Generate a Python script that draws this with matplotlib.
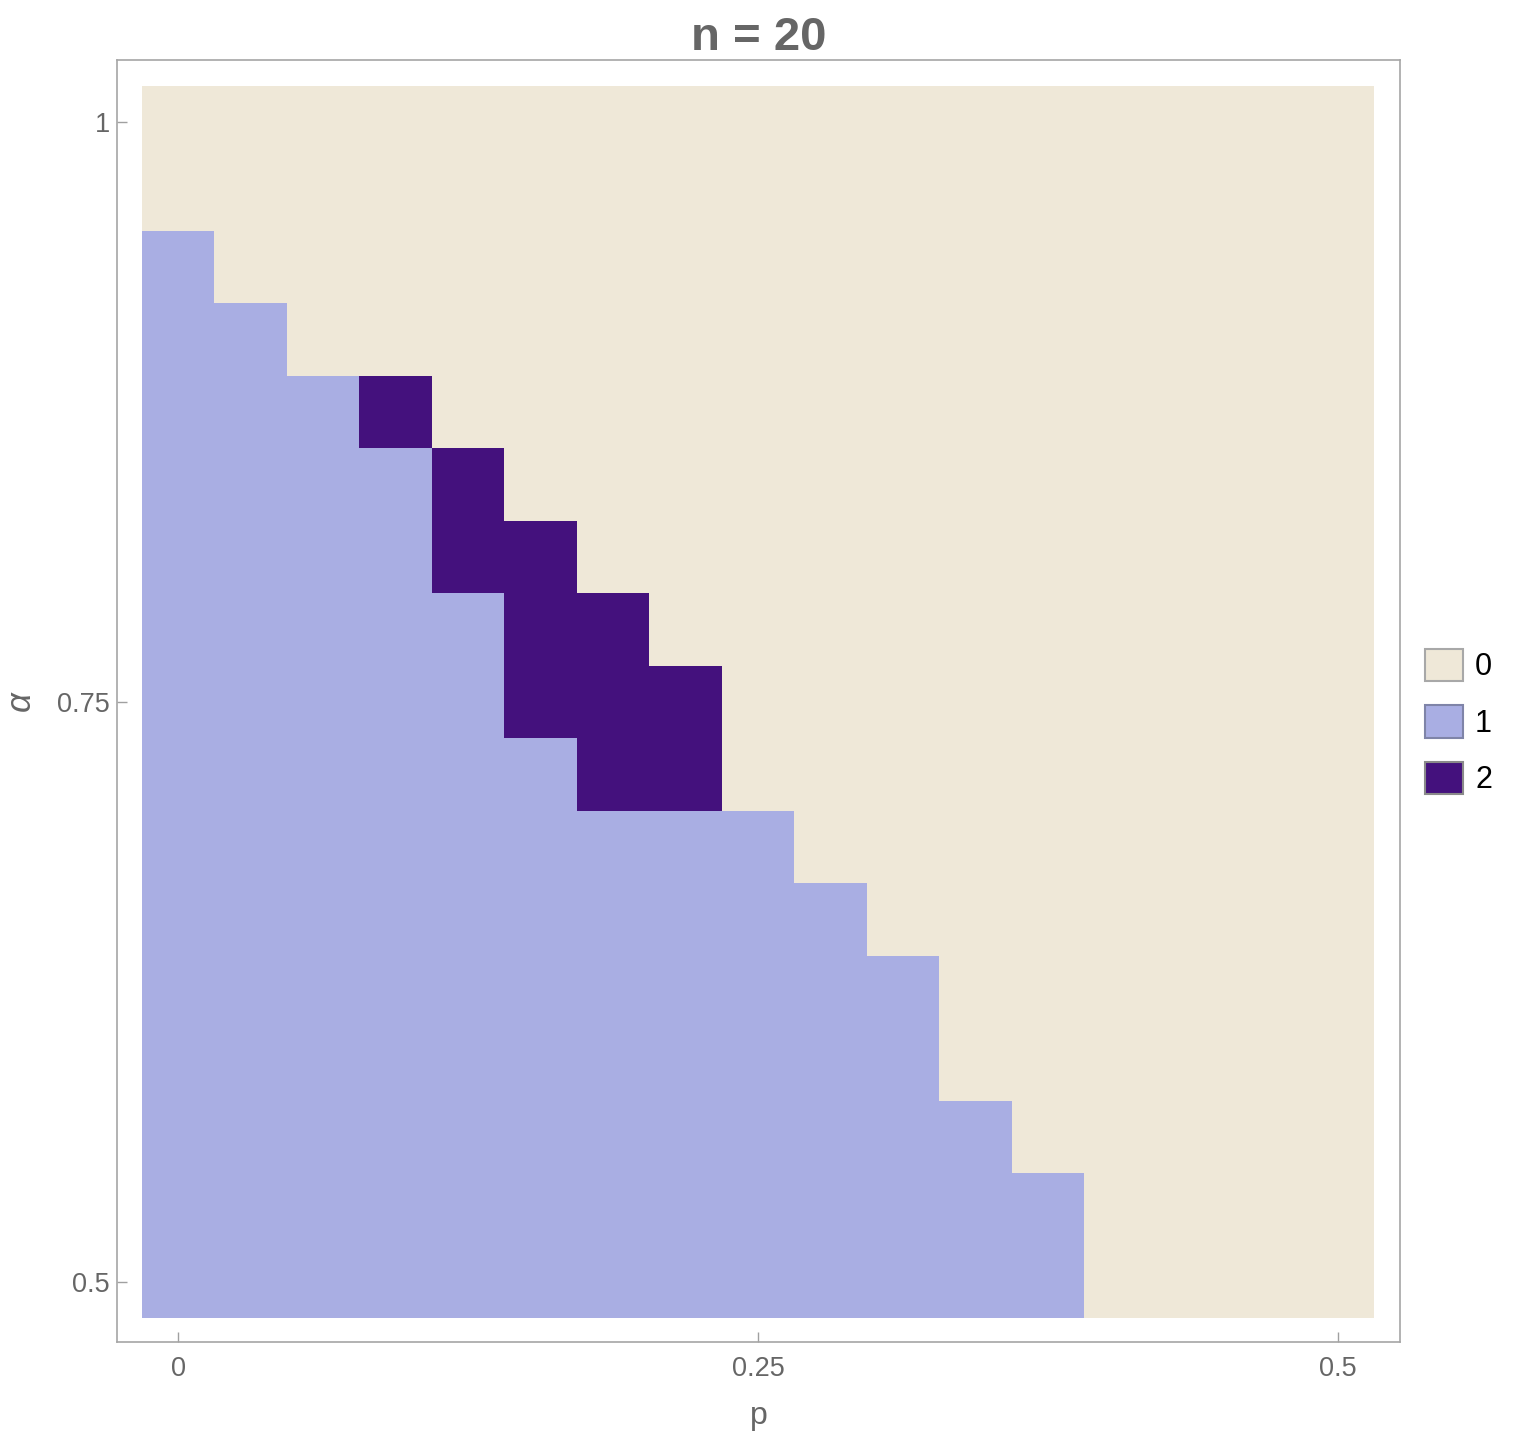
import numpy as np
import matplotlib
matplotlib.use("Agg")
import matplotlib.pyplot as plt
from matplotlib.colors import ListedColormap, BoundaryNorm
from matplotlib.patches import Patch

plt.rcParams['font.family'] = ['Liberation Sans', 'DejaVu Sans']

n = 20
# grid: p = i/32 (i = 0..16), alpha = j/32 (j = 16..32)
p_steps = list(range(0, 17))
a_steps = list(range(16, 33))

# per column: highest alpha step that is level 1 (15 = none)
blue_top = [30, 29, 28, 27, 25, 23, 22, 22, 22, 21, 20, 18, 17, 15, 15, 15, 15]
# per column: range of alpha steps at level 2 (0, 0 = none)
dark_lo = [0, 0, 0, 28, 26, 24, 23, 23, 0, 0, 0, 0, 0, 0, 0, 0, 0]
dark_hi = [0, 0, 0, 28, 27, 26, 25, 24, 0, 0, 0, 0, 0, 0, 0, 0, 0]

levels = ['0', '1', '2']
colors = ['#EFE8D8', '#A9AEE3', '#44117D']
edge_colors = ['#A8A8A8', '#7F84A8', '#8A8A8A']

grid = np.zeros((len(a_steps), len(p_steps)))
for i in range(len(p_steps)):
    for j, a in enumerate(a_steps):
        if a <= blue_top[i]:
            grid[j, i] = 1
        if dark_lo[i] and dark_lo[i] <= a <= dark_hi[i]:
            grid[j, i] = 2

p_edges = (np.array(p_steps + [p_steps[-1] + 1]) - 0.5) / 32
a_edges = (np.array(a_steps + [a_steps[-1] + 1]) - 0.5) / 32

fig = plt.figure(figsize=(15.16, 14.54), dpi=100)
ax = fig.add_axes([0.0772, 0.0770, 0.9235 - 0.0772, 0.9587 - 0.0770])

cmap = ListedColormap(colors)
norm = BoundaryNorm([-0.5, 0.5, 1.5, 2.5], 3)
ax.pcolormesh(p_edges, a_edges, grid, cmap=cmap, norm=norm, shading='flat')

ax.set_xlim(-0.0263, 0.5267)
ax.set_ylim(0.4741, 1.0267)

gray = '#666666'
ax.set_xticks([0, 0.25, 0.5])
ax.set_xticklabels(['0', '0.25', '0.5'])
ax.set_yticks([0.5, 0.75, 1])
ax.set_yticklabels(['0.5', '0.75', '1'])
ax.tick_params(direction='in', length=7, width=1, color='#A0A0A0',
               labelcolor=gray, labelsize=19.5)
ax.tick_params(axis='y', pad=5)
ax.tick_params(axis='x', pad=10)
for s in ax.spines.values():
    s.set_color('#A6A6A6')
    s.set_linewidth(1.2)

ax.set_xlabel('p', fontsize=23, color=gray, labelpad=14)
ax.set_ylabel('α', fontsize=25, color=gray, style='italic')
ax.yaxis.set_label_coords(-0.0624, 0.5)
ax.set_title(f'n = {n}', fontsize=34, fontweight='bold', color=gray, pad=6)

handles = [Patch(facecolor=c, edgecolor=e, linewidth=1.5) for c, e in zip(colors, edge_colors)]
fig.legend(handles, levels, loc='center left', bbox_to_anchor=(0.9297, 0.5034),
           frameon=False, fontsize=22, handlelength=1.25, handleheight=1.25,
           handletextpad=0.4, labelspacing=0.75, borderpad=0)

fig.savefig('out.png', dpi=100)
